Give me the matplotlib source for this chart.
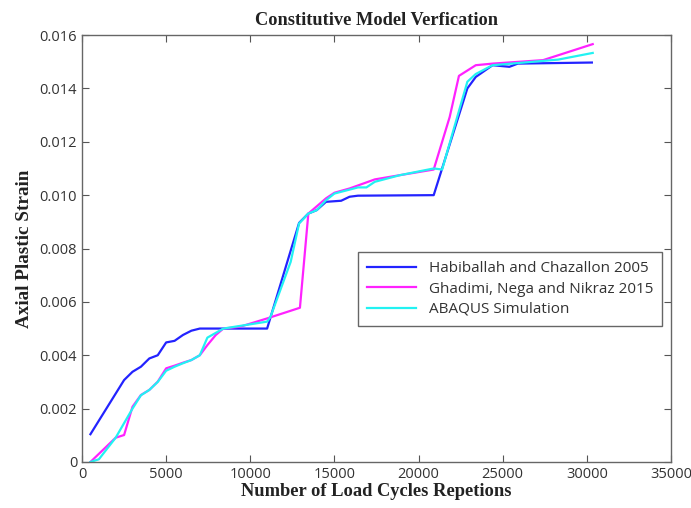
import matplotlib
matplotlib.use("Agg")
import matplotlib.pyplot as plt

hab_x = [500, 2500, 3000, 3500, 4000, 4500, 5000, 5500, 6000, 6500, 7000, 11000,
         12900, 13450, 13950, 14500, 15400, 15900, 16400, 20900, 22900, 23400, 24400,
         25400, 25900, 30300]
hab_y = [0.00104, 0.00307, 0.00338, 0.00357, 0.00388, 0.0040, 0.00448, 0.00454, 0.00476,
         0.00492, 0.0050, 0.0050, 0.00896, 0.00931, 0.00944, 0.00975, 0.00979, 0.00994,
         0.00998, 0.0100, 0.0140, 0.01443, 0.01487, 0.01481, 0.01493, 0.01497]

gha_x = [500, 2000, 2500, 3000, 3500, 4000, 4500, 5000, 5500, 6000, 6500, 7000, 7450,
         7950, 8400, 9400, 11000, 12950, 13450, 14500, 15000, 15900, 17400, 18900, 20900,
         21850, 22400, 23400, 24400, 27400, 30350]
gha_y = [0.0, 0.00091, 0.00101, 0.00207, 0.00251, 0.0027, 0.00301, 0.00351, 0.00361,
         0.00372, 0.00382, 0.0040, 0.00438, 0.00476, 0.0050, 0.00507, 0.00538, 0.00578,
         0.00931, 0.00988, 0.01009, 0.01025, 0.01059, 0.01075, 0.01096, 0.01293, 0.01447,
         0.01487, 0.01493, 0.01506, 0.01566]

aba_x = [500, 1000, 2000, 3000, 3500, 4000, 4500, 5000, 5500, 6000, 6500, 7000, 7450,
         8400, 11000, 11200, 12400, 12900, 13450, 13950, 14500, 15000, 16400, 16900, 17400,
         18900, 20900, 21400, 22900, 23400, 24400, 28300, 30350]
aba_y = [0.0, 0.0001, 0.00091, 0.0020, 0.0025, 0.0027, 0.0030, 0.00342, 0.00357, 0.0037,
         0.00382, 0.0040, 0.00466, 0.0050, 0.00526, 0.00544, 0.0075, 0.00894, 0.00931,
         0.00944, 0.00981, 0.01006, 0.01029, 0.01029, 0.0105, 0.01075, 0.0110, 0.01096,
         0.01425, 0.01454, 0.01487, 0.01508, 0.01533]

labels = ["Habiballah and Chazallon 2005", "Ghadimi, Nega and Nikraz 2015", "ABAQUS Simulation"]
x_ticks = [0, 5000, 10000, 15000, 20000, 25000, 30000, 35000]
y_ticks = [0, 0.002, 0.004, 0.006, 0.008, 0.010, 0.012, 0.014, 0.016]
y_tick_labels = ["0", "0.002", "0.004", "0.006", "0.008", "0.010", "0.012", "0.014", "0.016"]

fig = plt.figure(figsize=(6.91, 5.08), dpi=100)
ax = fig.add_axes([0.1187, 0.0906, 0.8523, 0.8404])

ax.plot(hab_x, hab_y, color="#2323ff", lw=1.6, label=labels[0])
ax.plot(gha_x, gha_y, color="#ff22ff", lw=1.6, label=labels[1])
ax.plot(aba_x, aba_y, color="#22f2f2", lw=1.6, label=labels[2])

ax.set_xlim(0, 35000)
ax.set_ylim(0, 0.016)
ax.set_xticks(x_ticks)
ax.set_xticklabels([str(v) for v in x_ticks])
ax.set_yticks(y_ticks)
ax.set_yticklabels(y_tick_labels)
ax.tick_params(direction="in", top=True, right=True, length=5, colors="#555555",
               labelcolor="#333333", labelsize=10.5)
for lab in ax.get_xticklabels() + ax.get_yticklabels():
    lab.set_fontfamily("Open Sans")
for s in ax.spines.values():
    s.set_color("#666666")
    s.set_linewidth(1.0)

ax.set_title("Constitutive Model Verfication", fontfamily="Liberation Serif",
             fontweight="bold", fontsize=13.2, color="#222222", pad=7)
ax.set_xlabel("Number of Load Cycles Repetions", fontfamily="Liberation Serif",
              fontweight="bold", fontsize=13.3, color="#222222", labelpad=1)
ax.set_ylabel("Axial Plastic Strain", fontfamily="Liberation Serif",
              fontweight="bold", fontsize=13.8, color="#222222", labelpad=5)

leg = ax.legend(loc="center right", bbox_to_anchor=(0.998, 0.405), fancybox=False,
                prop={"family": "Open Sans", "size": 11}, handlelength=3.2,
                borderpad=0.6, labelspacing=0.35, framealpha=1)
leg.get_frame().set_edgecolor("#666666")
leg.get_frame().set_linewidth(1.0)
for t in leg.get_texts():
    t.set_color("#333333")

fig.savefig("out.png", dpi=100)
